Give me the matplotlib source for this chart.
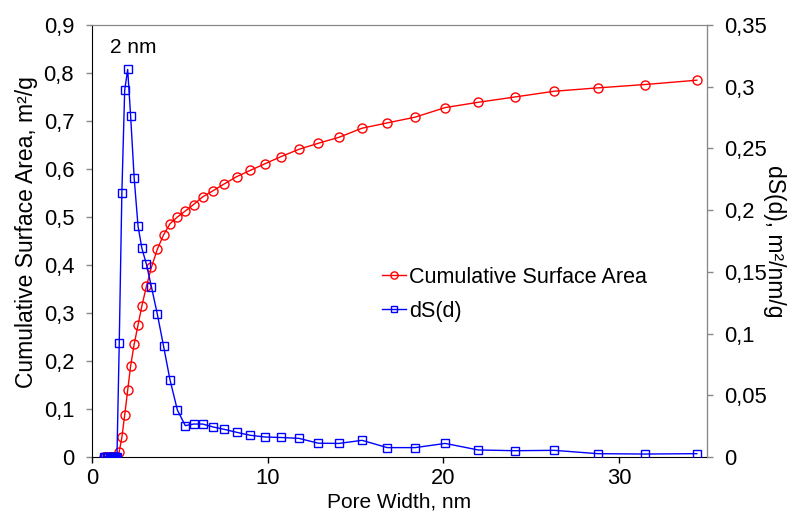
import matplotlib
matplotlib.use("Agg")
import matplotlib.pyplot as plt
from matplotlib.ticker import FuncFormatter, MultipleLocator

plt.rcParams['font.family'] = ['Liberation Sans', 'DejaVu Sans']

# pore width, nm (first points are the zero cluster below 1.5 nm)
pore_width = [0.68, 0.76, 0.84, 0.92, 1.0, 1.08, 1.15, 1.22, 1.28, 1.33, 1.38, 1.42,
              1.55, 1.70, 1.86, 2.03, 2.20, 2.40, 2.62, 2.84, 3.10, 3.38, 3.72, 4.07,
              4.44, 4.86, 5.31, 5.78, 6.30, 6.90, 7.53, 8.23, 9.0, 9.85, 10.77, 11.77,
              12.87, 14.05, 15.37, 16.8, 18.39, 20.1, 21.98, 24.06, 26.3, 28.78, 31.48, 34.42]

cum_area = [0] * 12 + [0.011, 0.041, 0.087, 0.139, 0.19, 0.235, 0.275, 0.315, 0.356, 0.395,
                       0.433, 0.4625, 0.486, 0.50, 0.5125, 0.526, 0.542, 0.555, 0.569, 0.584,
                       0.597, 0.611, 0.626, 0.641, 0.6535, 0.666, 0.685, 0.696, 0.708, 0.728,
                       0.739, 0.75, 0.762, 0.769, 0.776, 0.785]

dS = [0] * 12 + [0.092, 0.214, 0.297, 0.314, 0.276, 0.226, 0.187, 0.169, 0.156, 0.138,
                 0.1156, 0.090, 0.0624, 0.038, 0.0254, 0.0267, 0.0267, 0.0243, 0.0224, 0.020,
                 0.0176, 0.0162, 0.0158, 0.0151, 0.0112, 0.011, 0.0135, 0.0076, 0.0076, 0.011,
                 0.0057, 0.0051, 0.0054, 0.0027, 0.0024, 0.0027]

comma = FuncFormatter(lambda v, p: f"{v:g}".replace('.', ','))

fig = plt.figure(figsize=(7.92, 5.12), dpi=100)
ax = fig.add_axes([92 / 792, 1 - 457 / 512, 615 / 792, 432 / 512])
ax2 = ax.twinx()

l1, = ax.plot(pore_width, cum_area, color='#ff0000', lw=1, marker='o', ms=6.5,
              mfc='none', mew=1, label='Cumulative Surface Area')
l2, = ax2.plot(pore_width, dS, color='#0000ff', lw=1, marker='s', ms=6,
               mfc='none', mew=1, label='dS(d)')

ax.set_xlim(0, 35)
ax.set_ylim(0, 0.9)
ax2.set_ylim(0, 0.35)
ax.xaxis.set_major_locator(MultipleLocator(10))
ax.yaxis.set_major_locator(MultipleLocator(0.1))
ax2.yaxis.set_major_locator(MultipleLocator(0.05))
ax.yaxis.set_major_formatter(comma)
ax2.yaxis.set_major_formatter(comma)

fs = 15.8
ax.tick_params(labelsize=fs, length=4.3, width=1, direction='out', pad=3.5)
ax.tick_params(axis='y', color='#888888', pad=8.5)
ax2.tick_params(labelsize=fs, length=4.3, width=1, direction='out', pad=8, color='#888888')

for s in ['left', 'bottom']:
    ax.spines[s].set_color('black')
ax.spines['top'].set_color('#888888')
ax2.spines['right'].set_color('#888888')
ax2.spines['top'].set_color('#888888')
ax2.spines['left'].set_visible(False)
ax2.spines['bottom'].set_visible(False)

ax.set_ylabel('Cumulative Surface Area, m²/g', fontsize=16.5, va='center')
ax.yaxis.set_label_coords(-0.107, 0.52)
ax2.set_ylabel('dS(d), m²/nm/g', fontsize=16.5, rotation=270, va='center', ha='center')
ax2.yaxis.set_label_coords(1.11, 0.5)
ax.set_xlabel('Pore Width, nm', fontsize=15, va='bottom')
ax.xaxis.set_label_coords(0.5, -0.126)

ax.text(1.0, 0.853, '2 nm', fontsize=15, va='center', ha='left')

ax.legend([l1, l2], ['Cumulative Surface Area', 'dS(d)'], loc='upper left',
          bbox_to_anchor=(0.44, 0.485), frameon=False, fontsize=15.5, numpoints=1,
          handlelength=1.1, handletextpad=0.15, labelspacing=0.6, markerscale=0.8)

fig.savefig('out.png', dpi=100)
